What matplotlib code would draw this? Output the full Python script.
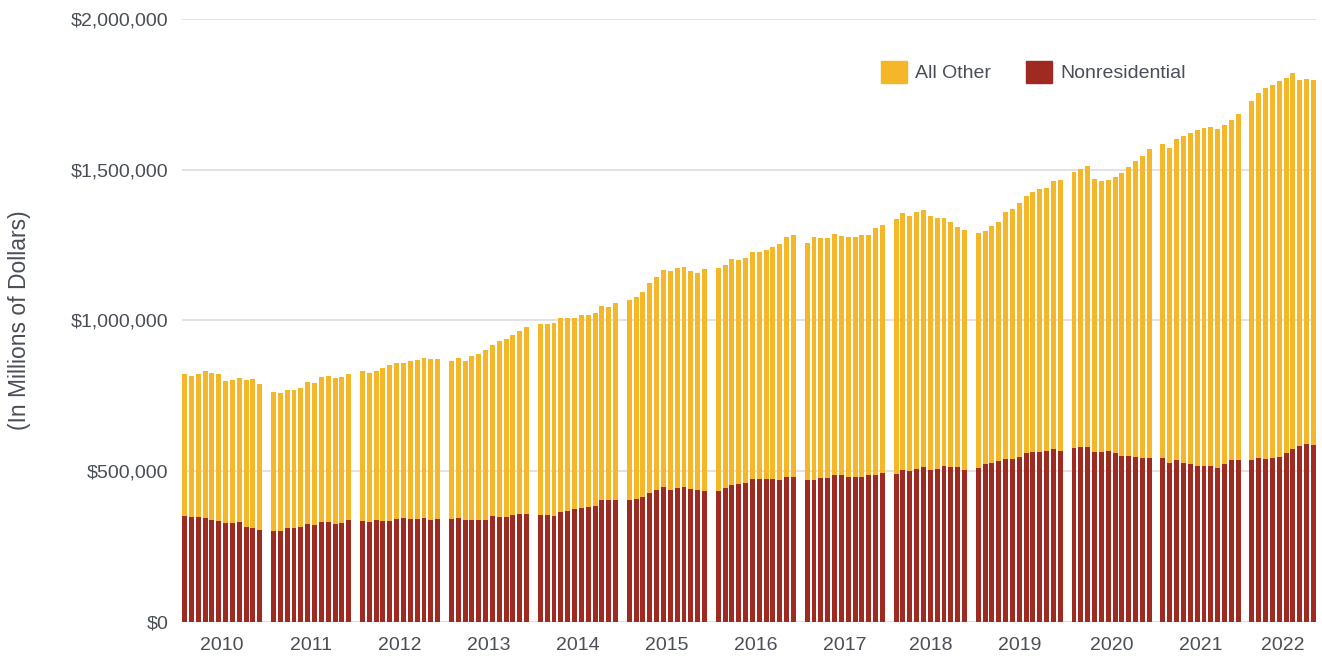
import matplotlib
matplotlib.use("Agg")
import matplotlib.pyplot as plt
from matplotlib.patches import Patch
import numpy as np

# Construction spending, monthly, in millions of dollars
years = [2010, 2011, 2012, 2013, 2014, 2015, 2016, 2017, 2018, 2019, 2020, 2021, 2022]

total = [
    [822000, 816000, 822000, 832000, 826000, 822000, 799000, 803000, 809000, 803000, 806000, 789000],
    [763000, 760000, 769000, 769000, 776000, 796000, 793000, 813000, 816000, 809000, 813000, 822000],
    [832000, 826000, 832000, 842000, 852000, 859000, 859000, 866000, 869000, 876000, 872000, 872000],
    [866000, 876000, 866000, 882000, 889000, 902000, 919000, 932000, 939000, 952000, 965000, 978000],
    [988000, 988000, 992000, 1008000, 1008000, 1008000, 1018000, 1018000, 1025000, 1048000, 1045000, 1058000],
    [1068000, 1078000, 1095000, 1124000, 1144000, 1167000, 1164000, 1174000, 1177000, 1164000, 1158000, 1171000],
    [1174000, 1184000, 1204000, 1201000, 1207000, 1227000, 1227000, 1234000, 1244000, 1254000, 1277000, 1284000],
    [1257000, 1277000, 1274000, 1274000, 1287000, 1280000, 1277000, 1277000, 1284000, 1284000, 1307000, 1317000],
    [1337000, 1357000, 1347000, 1360000, 1366000, 1347000, 1340000, 1340000, 1327000, 1310000, 1300000],
    [1290000, 1297000, 1313000, 1327000, 1360000, 1370000, 1390000, 1413000, 1426000, 1437000, 1439000, 1463000, 1467000],
    [1493000, 1504000, 1512000, 1470000, 1463000, 1467000, 1476000, 1489000, 1509000, 1529000, 1545000, 1569000],
    [1585000, 1573000, 1602000, 1612000, 1622000, 1632000, 1639000, 1643000, 1635000, 1648000, 1665000, 1685000],
    [1728000, 1755000, 1771000, 1781000, 1794000, 1804000, 1821000, 1798000, 1801000, 1798000],
]

nonresidential = [
    [352000, 348000, 348000, 345000, 338000, 335000, 328000, 328000, 332000, 315000, 312000, 305000],
    [302000, 302000, 312000, 312000, 315000, 325000, 322000, 332000, 332000, 325000, 328000, 338000],
    [335000, 332000, 338000, 335000, 335000, 342000, 345000, 342000, 342000, 345000, 338000, 342000],
    [342000, 345000, 338000, 338000, 338000, 338000, 352000, 348000, 348000, 355000, 358000, 358000],
    [355000, 355000, 352000, 365000, 368000, 375000, 378000, 381000, 385000, 405000, 405000, 405000],
    [405000, 408000, 415000, 428000, 438000, 448000, 438000, 444000, 448000, 441000, 438000, 434000],
    [434000, 444000, 454000, 458000, 461000, 474000, 474000, 474000, 474000, 471000, 481000, 481000],
    [471000, 471000, 478000, 478000, 488000, 488000, 481000, 481000, 481000, 488000, 488000, 494000],
    [491000, 504000, 501000, 507000, 514000, 504000, 507000, 517000, 514000, 514000, 504000],
    [512000, 523000, 529000, 533000, 540000, 540000, 546000, 559000, 563000, 563000, 566000, 573000, 566000],
    [576000, 580000, 580000, 563000, 563000, 566000, 559000, 549000, 549000, 546000, 543000, 543000],
    [543000, 526000, 536000, 529000, 523000, 519000, 519000, 519000, 512000, 523000, 536000, 536000],
    [537000, 544000, 541000, 544000, 547000, 561000, 574000, 584000, 590000, 587000],
]

YELLOW = "#F5B72A"
RED = "#9E2A22"
TEXT = "#4A4E57"
GRID = "#DDDDDD"

plt.rcParams["font.family"] = ["Liberation Sans", "DejaVu Sans"]

fig = plt.figure(figsize=(13.22, 6.60), dpi=100)
ax = fig.add_axes([181.5 / 1322, 38 / 660, (1316 - 181.5) / 1322, 603 / 660])

# lay out bars month by month, one empty slot between years
xs, nr, other, centers = [], [], [], []
pos = 0
for tot, non in zip(total, nonresidential):
    start = pos
    for t, n in zip(tot, non):
        xs.append(pos)
        nr.append(n)
        other.append(t - n)
        pos += 1
    centers.append((start + pos - 1) / 2)
    pos += 1

xs = np.array(xs)
ax.bar(xs, nr, width=0.72, color=RED, zorder=2)
ax.bar(xs, other, width=0.72, bottom=nr, color=YELLOW, zorder=2)

ax.set_xlim(-0.44, xs[-1] + 0.37)
ax.set_ylim(0, 2000000)
ax.set_yticks([0, 500000, 1000000, 1500000, 2000000])
ax.yaxis.set_major_formatter(plt.FuncFormatter(lambda v, p: f"${v:,.0f}"))
ax.set_xticks(centers)
ax.set_xticklabels([str(y) for y in years])

ax.tick_params(axis="y", length=0, pad=9.5, labelsize=14, labelcolor=TEXT)
ax.tick_params(axis="x", length=0, pad=10.5, labelsize=14, labelcolor=TEXT)

for s in ax.spines.values():
    s.set_visible(False)
ax.grid(axis="y", color=GRID, linewidth=1.2, zorder=0)
ax.axhline(0, color="#E2E2E2", linewidth=2.2, zorder=1)

fig.text(20 / 1322, 1 - 320 / 660, "(In Millions of Dollars)", rotation=90,
         ha="center", va="center", fontsize=16.5, color=TEXT)

handles = [Patch(color=YELLOW, label="All Other"), Patch(color=RED, label="Nonresidential")]
fig.legend(handles=handles, loc="center left", bbox_to_anchor=(881 / 1322, 1 - 72 / 660),
           ncol=2, frameon=False, fontsize=14, handlelength=1.34, handleheight=1.34,
           handletextpad=0.42, columnspacing=1.8, borderpad=0, borderaxespad=0,
           labelcolor=TEXT)

fig.savefig("out.png", dpi=100, facecolor="white")
